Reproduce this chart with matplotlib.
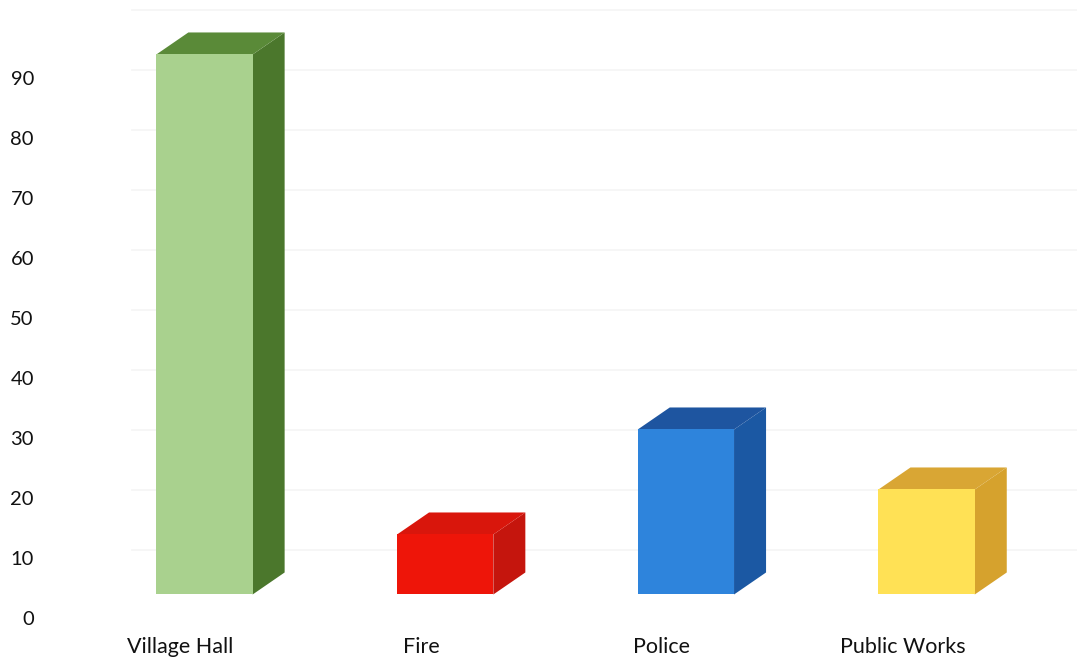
import matplotlib
matplotlib.use("Agg")
import matplotlib.pyplot as plt
from matplotlib.patches import Polygon

categories = ["Village Hall", "Fire", "Police", "Public Works"]
values = [90, 10, 27.5, 17.5]
yticks = [0, 10, 20, 30, 40, 50, 60, 70, 80, 90]

front_colors = ["#a9d18e", "#ee1509", "#2e84dc", "#ffe155"]
side_colors = ["#4b772c", "#c5150d", "#1b58a3", "#d6a22d"]
top_colors = ["#5a8a38", "#d9160c", "#1e55a0", "#d9a634"]

FLOOR = 4.0
W = 0.40
DX = 0.133
DY = 3.67

plt.rcParams['font.family'] = ['Lato', 'DejaVu Sans']

fig = plt.figure(figsize=(10.77, 6.62), dpi=100)
L = 45 / 1077
B = (662 - 630) / 662
ax = fig.add_axes([L, B, 1 - L, 1 - B])
ax.set_xlim(-0.6625, 3.6248)
ax.set_ylim(-1.917, 103.08)

# faint back-wall gridlines
for g in yticks[1:] + [100]:
    ax.plot([-0.3, 3.7], [g + 1.4, g + 1.4], color="#f6f6f6", lw=1.3, zorder=0)

x = list(range(len(categories)))
ax.bar(x, values, bottom=FLOOR, width=W, color=front_colors, zorder=3)
for i, v in enumerate(values):
    top = FLOOR + v
    xr = i + W / 2
    xl = i - W / 2
    side = Polygon([(xr, FLOOR), (xr + DX, FLOOR + DY), (xr + DX, top + DY), (xr, top)],
                   closed=True, facecolor=side_colors[i], edgecolor="none", zorder=2)
    topf = Polygon([(xl, top), (xr, top), (xr + DX, top + DY), (xl + DX, top + DY)],
                   closed=True, facecolor=top_colors[i], edgecolor="none", zorder=2)
    ax.add_patch(side)
    ax.add_patch(topf)

ax.set_yticks(yticks)
ax.set_yticklabels([str(t) for t in yticks], fontsize=14.5, color="#111111")
ax.set_xticks([i - 0.1 for i in x])
ax.set_xticklabels(categories, fontsize=15.5, color="#111111")
ax.tick_params(axis='y', length=0, pad=8)
ax.tick_params(axis='x', length=0, pad=5)
for s in ax.spines.values():
    s.set_visible(False)

fig.savefig("out.png", dpi=100)
